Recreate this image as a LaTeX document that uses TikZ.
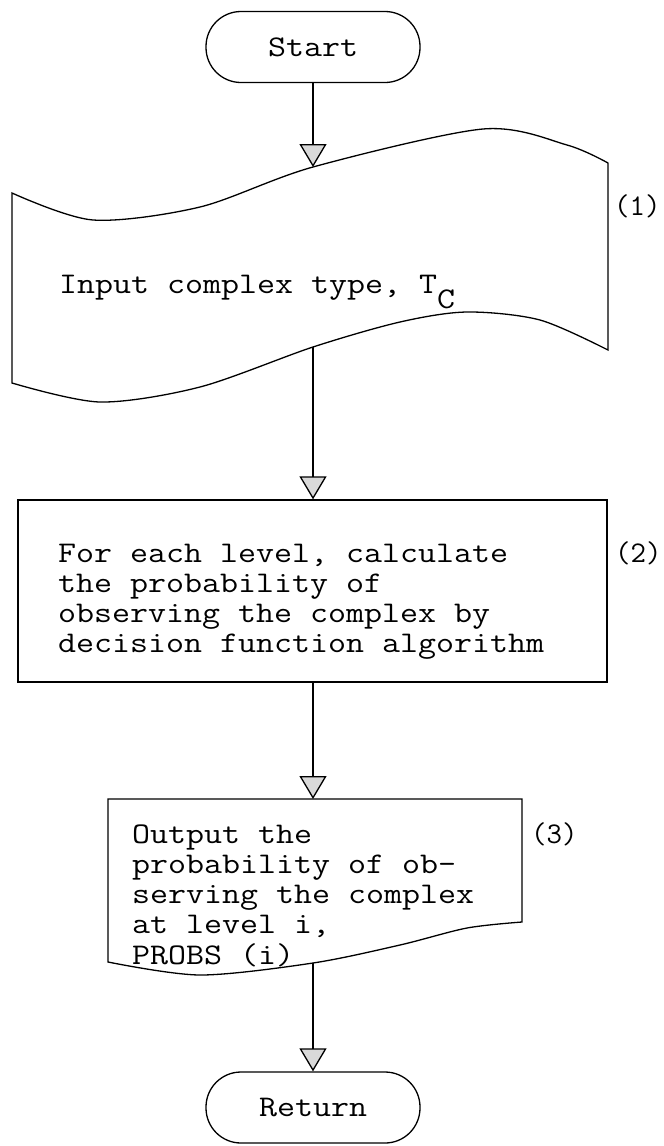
\documentclass[tikz,border=0pt]{standalone}
\usepackage{fontspec}
\usepackage{graphicx}
\usetikzlibrary{arrows.meta}
\newcommand\twtext[1]{\scalebox{1.165}[1]{#1}}
\begin{document}
\begin{tikzpicture}[x=1pt,y=-1pt,
  tw/.style={font=\ttfamily\fontsize{30}{30.3}\selectfont, inner sep=0pt},
  term/.style={draw, line width=1.3pt, rounded corners=35pt, minimum width=214pt, minimum height=71pt, tw},
  outline/.style={line width=1.3pt, line join=miter},
  procbox/.style={draw, line width=1.3pt, inner sep=0pt, minimum width=589pt, minimum height=182pt},
  flow/.style={line width=1.3pt, -{Triangle[length=23pt,width=27pt,fill=gray!30]}},
]
\useasboundingbox (0,0) rectangle (664,1146);

% terminals
\node[term] (start) at (313,47) {\twtext{Start}};
\node[term] (ret) at (313,1107.5) {\twtext{Return}};

% (1) input shape
\draw[outline] (12,383) -- (12,193)
  -- plot[smooth] coordinates {(12,193) (93,220) (200,207) (313,167) (483,129) (567,145) (608,163)}
  -- (608,350)
  -- plot[smooth] coordinates {(608,350) (540,320) (467,312) (400,322) (313,347) (200,387) (100,402) (12,383)}
  -- cycle;
\coordinate (intop) at (313,167);
\coordinate (inbot) at (313,347);
\node[tw, anchor=base west] (intext) at (59,293) {\twtext{Input complex type, T\raisebox{-15pt}{C}}};
\node[tw, anchor=base west] (lab1) at (614,215) {(1)};

% (2) process box
\node[procbox] (proc) at (312.5,591) {};
\node[tw, anchor=base west] (proctext) at (58,562) {\twtext{\parbox[t]{520pt}{For each level, calculate\\the probability of\\observing the complex by\\decision function algorithm}}};
\node[tw, anchor=base west] (lab2) at (615,562) {(2)};

% (3) output document shape
\draw[outline] (108,962) -- (108,799) -- (522,799) -- (522,922)
  -- plot[smooth] coordinates {(522,922) (467,928) (400,945) (313,963) (200,975) (108,962)}
  -- cycle;
\coordinate (otop) at (313,799);
\coordinate (obot) at (313,963);
\node[tw, anchor=base west] (outtext) at (132,843) {\twtext{\parbox[t]{330pt}{Output the\\probability of ob-\\serving the complex\\at level i,\\PROBS (i)}}};
\node[tw, anchor=base west] (lab3) at (531,843) {(3)};

% connectors
\draw[flow] (start) -- (intop);
\draw[flow] (inbot) -- (inbot |- proc.north);
\draw[flow] (proc.south -| otop) -- (otop);
\draw[flow] (obot) -- (ret);
\end{tikzpicture}
\end{document}
